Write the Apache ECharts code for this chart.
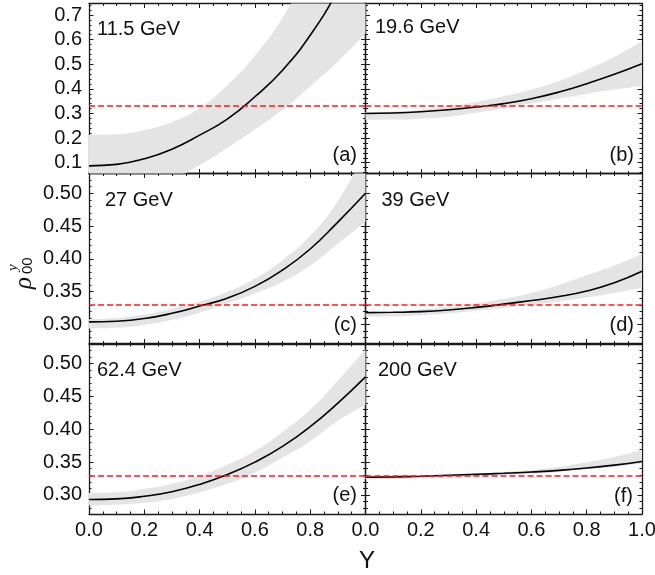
<!DOCTYPE html>
<html><head><meta charset="utf-8">
<script src="https://cdn.jsdelivr.net/npm/echarts@6/dist/echarts.min.js"></script>
<style>html,body{margin:0;padding:0;background:#fff}#c{width:655px;height:575px}</style>
</head><body><div id="c"></div><script>
// ---- data ----
const xCategories = ['0.0','0.1','0.2','0.3','0.4','0.5','0.6','0.7','0.8','0.9','1.0'];
const xTickValues = [0, 0.2, 0.4, 0.6, 0.8, 1.0];
const yTicksTop = [0.1, 0.2, 0.3, 0.4, 0.5, 0.6, 0.7];
const yTicksLower = [0.30, 0.35, 0.40, 0.45, 0.50];
const energies = ['11.5 GeV', '19.6 GeV', '27 GeV', '39 GeV', '62.4 GeV', '200 GeV'];
const tags = ['(a)', '(b)', '(c)', '(d)', '(e)', '(f)'];
const refLevel = 1 / 3;

const curveA = [0.087, 0.093, 0.116, 0.155, 0.212, 0.277, 0.368, 0.476, 0.618, 0.80, 1.02];
const lowerA = [-0.04, -0.035, -0.015, 0.03, 0.09, 0.16, 0.235, 0.315, 0.41, 0.51, 0.625];
const upperA = [0.213, 0.216, 0.232, 0.265, 0.322, 0.415, 0.535, 0.69, 0.90, 1.15, 1.40];

const curveB = [0.300, 0.302, 0.307, 0.315, 0.326, 0.340, 0.360, 0.387, 0.421, 0.459, 0.502];
const lowerB = [0.274, 0.275, 0.279, 0.287, 0.303, 0.321, 0.341, 0.360, 0.380, 0.397, 0.412];
const upperB = [0.306, 0.308, 0.315, 0.328, 0.347, 0.370, 0.397, 0.432, 0.478, 0.530, 0.594];

const curveC = [0.304, 0.305, 0.309, 0.317, 0.328, 0.340, 0.358, 0.383, 0.415, 0.456, 0.500];
const lowerC = [0.294, 0.295, 0.299, 0.307, 0.318, 0.332, 0.347, 0.365, 0.390, 0.423, 0.457];
const upperC = [0.308, 0.310, 0.315, 0.324, 0.335, 0.350, 0.370, 0.398, 0.435, 0.488, 0.565];

const curveD = [0.318, 0.3185, 0.3195, 0.322, 0.326, 0.331, 0.3365, 0.3425, 0.351, 0.3635, 0.381];
const lowerD = [0.312, 0.312, 0.314, 0.317, 0.321, 0.325, 0.330, 0.335, 0.341, 0.348, 0.356];
const upperD = [0.319, 0.320, 0.323, 0.327, 0.332, 0.339, 0.348, 0.360, 0.375, 0.390, 0.407];

const curveE = [0.293, 0.294, 0.298, 0.305, 0.316, 0.331, 0.350, 0.374, 0.404, 0.440, 0.480];
const lowerE = [0.284, 0.285, 0.288, 0.294, 0.304, 0.317, 0.334, 0.357, 0.382, 0.413, 0.437];
const upperE = [0.303, 0.304, 0.309, 0.317, 0.329, 0.346, 0.367, 0.396, 0.430, 0.474, 0.522];

const curveF = [0.327, 0.3275, 0.3285, 0.330, 0.3315, 0.333, 0.335, 0.3375, 0.341, 0.3455, 0.351];
const lowerF = [0.324, 0.324, 0.325, 0.326, 0.328, 0.330, 0.332, 0.335, 0.339, 0.343, 0.348];
const upperF = [0.328, 0.3285, 0.329, 0.3305, 0.332, 0.335, 0.338, 0.343, 0.350, 0.358, 0.369];

// ---- layout / style ----
const panels = [
  {curve: curveA, lower: lowerA, upper: upperA},
  {curve: curveB, lower: lowerB, upper: upperB},
  {curve: curveC, lower: lowerC, upper: upperC},
  {curve: curveD, lower: lowerD, upper: upperD},
  {curve: curveE, lower: lowerE, upper: upperE},
  {curve: curveF, lower: lowerF, upper: upperF}
];
const colLeft = [89, 365.5], colW = 276.5;
const rowTop = [3.5, 173.5, 344], rowH = 170;
const yRange = [[0.056, 0.747], [0.271, 0.530], [0.271, 0.530]];
const yMajor = [yTicksTop, yTicksLower, yTicksLower];
const yDec = [1, 2, 2];
const titlePos = [[97, 29.5], [375, 27.5], [105, 200.5], [381.5, 200.8], [97, 370.8], [378, 370.8]];
const tagPos = [[357, 155.5], [634, 155.5], [357, 325.7], [634, 325.5], [357, 495.8], [633, 496.5]];

const frame = '#1a1a1a';
const FONT = '"Liberation Sans", Arial, sans-serif';
const r3 = v => Math.round(v * 1000) / 1000;

const xMinor = [];
for (let k = 1; k < 20; k++) if (k % 4 !== 0) xMinor.push(r3(k * 0.05));
function yMinorFor(row) {
  const out = [];
  if (row === 0) { for (let k = 3; k <= 37; k++) if (k % 5 !== 0) out.push(r3(k * 0.02)); }
  else { for (let k = 28; k <= 52; k++) if (k % 5 !== 0) out.push(r3(k * 0.01)); }
  return out;
}

const grids = [], xAxes = [], yAxes = [], series = [], graphics = [];
const MAJ = 4.5, MIN = 2.5;

function tickAxisCommon(showLine, ticks, len) {
  return {
    axisLine: {show: showLine, onZero: false, lineStyle: {color: frame, width: 1.3}},
    axisTick: {show: true, inside: true, length: len, customValues: ticks, lineStyle: {color: frame, width: 1}},
    splitLine: {show: false}, minorTick: {show: false}, minorSplitLine: {show: false}
  };
}

panels.forEach((p, g) => {
  const row = Math.floor(g / 2), col = g % 2;
  grids.push({left: colLeft[col], top: rowTop[row], width: colW, height: rowH, containLabel: false, outerBoundsMode: 'none'});
  const [ymin, ymax] = yRange[row];
  const yMin = yMinorFor(row);
  xAxes.push({type: 'category', gridIndex: g, data: xCategories, boundaryGap: false, show: false, position: 'bottom'});
  const xLabels = row === 2 ? (col === 0 ? xTickValues.slice(0, 5) : xTickValues) : null;
  xAxes.push(Object.assign({type: 'value', gridIndex: g, position: 'bottom', min: 0, max: 1,
    axisLabel: xLabels ? {show: true, customValues: xLabels, formatter: v => v.toFixed(1), margin: 6,
      fontSize: 20, color: '#111', fontFamily: FONT} : {show: false}}, tickAxisCommon(true, xTickValues, MAJ)));
  xAxes.push(Object.assign({type: 'value', gridIndex: g, position: 'bottom', min: 0, max: 1, axisLabel: {show: false}},
    tickAxisCommon(false, xMinor, MIN)));
  xAxes.push(Object.assign({type: 'value', gridIndex: g, position: 'top', min: 0, max: 1, axisLabel: {show: false}},
    tickAxisCommon(true, xTickValues, MAJ)));
  xAxes.push(Object.assign({type: 'value', gridIndex: g, position: 'top', min: 0, max: 1, axisLabel: {show: false}},
    tickAxisCommon(false, xMinor, MIN)));
  const dec = yDec[row];
  yAxes.push(Object.assign({type: 'value', gridIndex: g, position: 'left', min: ymin, max: ymax,
    axisLabel: col === 0 ? {show: true, customValues: yMajor[row], formatter: v => v.toFixed(dec), margin: 7,
      fontSize: 20, color: '#111', fontFamily: FONT} : {show: false}}, tickAxisCommon(true, yMajor[row], MAJ)));
  yAxes.push(Object.assign({type: 'value', gridIndex: g, position: 'left', min: ymin, max: ymax, axisLabel: {show: false}},
    tickAxisCommon(false, yMin, MIN)));
  yAxes.push(Object.assign({type: 'value', gridIndex: g, position: 'right', min: ymin, max: ymax, axisLabel: {show: false}},
    tickAxisCommon(true, yMajor[row], MAJ)));
  yAxes.push(Object.assign({type: 'value', gridIndex: g, position: 'right', min: ymin, max: ymax, axisLabel: {show: false}},
    tickAxisCommon(false, yMin, MIN)));

  const xi = 5 * g, yi = 4 * g;
  series.push({type: 'line', xAxisIndex: xi, yAxisIndex: yi, data: p.lower, stack: 'band' + g, stackStrategy: 'all',
    smooth: true, symbol: 'none', silent: true, lineStyle: {opacity: 0, width: 0}, z: 1});
  series.push({type: 'line', xAxisIndex: xi, yAxisIndex: yi, data: p.upper.map((u, i) => u - p.lower[i]),
    stack: 'band' + g, stackStrategy: 'all', smooth: true, symbol: 'none', silent: true,
    lineStyle: {opacity: 0, width: 0}, areaStyle: {color: '#e4e4e4', opacity: 1}, z: 1});
  series.push({type: 'line', xAxisIndex: xi, yAxisIndex: yi, data: p.curve, smooth: true, symbol: 'none', silent: true,
    lineStyle: {color: '#000', width: 1.6}, z: 3,
    markLine: {symbol: ['none', 'none'], silent: true, animation: false, label: {show: false},
      lineStyle: {color: '#ff1a1a', type: [6, 3], width: 1.7}, data: [{yAxis: refLevel}]}});

  graphics.push({type: 'text', x: titlePos[g][0], y: titlePos[g][1], z: 100,
    style: {text: energies[g], font: '20px ' + FONT, fill: '#111', textAlign: 'left', textVerticalAlign: 'middle'}});
  graphics.push({type: 'text', x: tagPos[g][0], y: tagPos[g][1], z: 100,
    style: {text: tags[g], font: '20px ' + FONT, fill: '#111', textAlign: 'right', textVerticalAlign: 'middle'}});
});

graphics.push({type: 'text', x: 367, y: 561, z: 100,
  style: {text: 'Y', font: '24px ' + FONT, fill: '#111', textAlign: 'center', textVerticalAlign: 'middle'}});
graphics.push({type: 'group', x: 24, y: 289, rotation: Math.PI / 2, z: 100, children: [
  {type: 'text', x: 0, y: 0, style: {text: 'ρ', font: 'italic 25px "Liberation Serif", serif', fill: '#111', textAlign: 'left', textVerticalAlign: 'middle'}},
  {type: 'text', x: 15, y: 4, style: {text: '00', font: '15px ' + FONT, fill: '#111', textAlign: 'left', textVerticalAlign: 'middle'}},
  {type: 'text', x: 18, y: -11, style: {text: 'y', font: 'italic 15px "Liberation Serif", serif', fill: '#111', textAlign: 'left', textVerticalAlign: 'middle'}}
]});

const chart = echarts.init(document.getElementById('c'), null, {renderer: 'canvas'});
chart.setOption({
  animation: false,
  backgroundColor: '#fff',
  grid: grids, xAxis: xAxes, yAxis: yAxes, series: series, graphic: graphics
});
</script></body></html>
